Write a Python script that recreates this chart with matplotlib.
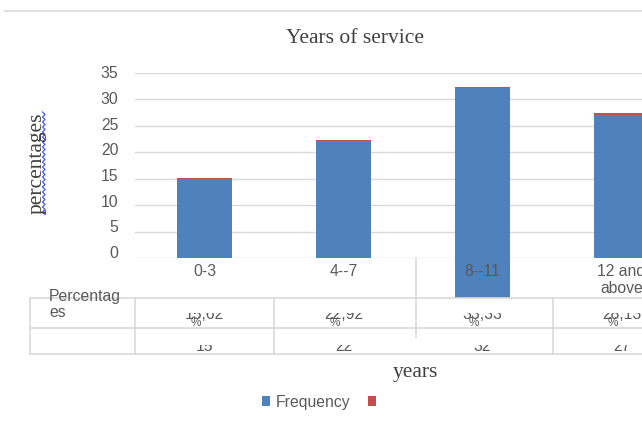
import numpy as np
import matplotlib
matplotlib.use('Agg')
import matplotlib.pyplot as plt
from matplotlib.transforms import Bbox, TransformedBbox, ScaledTranslation

# service groups and counts
categories = ['0-3', '4--7', '8--11', '12 and\nabove']
frequency = [15, 22, 32, 27]
percent = [15.62, 22.92, 33.33, 28.13]
percent_text = ['15,62', '22,92', '33,33', '28,13']
bar_base = [0, 0, -7.5, 0]   # the 8--11 bar runs down into the table

BLUE = '#4F81BD'
RED = '#C0504D'
GRID = '#D9D9D9'
TXT = '#595959'
SERIF = 'Liberation Serif'
SANS = 'Liberation Sans'
FS = 11.3      # sans text size
FS_SERIF = 15.5

W, H = 642, 425
fig = plt.figure(figsize=(W / 100, H / 100), dpi=100)

# plot area in pixels: left 135, value 0 at y=258, value 35 at y=72.5, 139 px per category
ax = fig.add_axes([135 / W, 1 - 258 / H, 556 / W, (258 - 72.5) / H])
x = np.arange(len(categories))
ax.bar(x, np.array(frequency) - np.array(bar_base), bottom=bar_base, width=0.4,
       color=BLUE, clip_on=False, zorder=2, label='Frequency')
ax.bar(x, np.array(percent) / 100, bottom=frequency, width=0.4,
       color=RED, clip_on=False, zorder=2, label=' ')
ax.set_xlim(-0.5, 3.5)
ax.set_ylim(0, 35)
yticks = list(range(0, 36, 5))
ax.set_yticks(yticks)
ax.set_xticks([])
ax.grid(axis='y', color=GRID, lw=1.0)
ax.set_axisbelow(True)
for s in ax.spines.values():
    s.set_visible(False)
ax.tick_params(axis='y', length=0, pad=12, labelsize=FS, labelcolor=TXT)
# labels creep upward towards the bottom of the scale
for v, lab in zip(yticks, ax.get_yticklabels()):
    lab.set_fontfamily(SANS)
    up = (35 - v) / 35 * 6 / 100
    lab.set_transform(lab.get_transform() + ScaledTranslation(0, up, fig.dpi_scale_trans))

# category labels sit on top of the bars
for i, c in enumerate(categories):
    ax.annotate(c, xy=(i, 0), xycoords=('data', 'axes fraction'),
                xytext=(0, -4), textcoords='offset points', ha='center', va='top',
                fontsize=FS, color=TXT, family=SANS, linespacing=1.2, zorder=5)

# overlay in pixel coordinates for the title, table and labels
ov = fig.add_axes([0, 0, 1, 1])
ov.set_xlim(0, W)
ov.set_ylim(H, 0)
ov.axis('off')
ov.patch.set_visible(False)

ov.plot([5, W], [11, 11], color=GRID, lw=1.2)
ov.text(355, 38, 'Years of service', ha='center', va='center', fontsize=FS_SERIF,
        family=SERIF, color='#404040')
ov.text(37, 163, 'percentages', ha='center', va='center', rotation=90, fontsize=FS_SERIF,
        family=SERIF, color='#404040')
yy = np.arange(112, 216, 2.5)
xx = np.where(np.arange(len(yy)) % 2 == 0, 42.5, 45)
ov.plot(xx, yy, color='#3344FF', lw=0.8)
ov.text(415, 373, 'years', ha='center', va='center', fontsize=FS_SERIF,
        family=SERIF, color='#404040')

# data table grid
for yl in [298, 328, 354]:
    ov.plot([30, W], [yl, yl], color=GRID, lw=1.2)
for xl in [30, 135, 274, 553]:
    ov.plot([xl, xl], [298, 354], color=GRID, lw=1.2)
ov.plot([416, 416], [258, 337], color=GRID, lw=1.2)

ov.text(49, 300.5, 'Percentag', ha='left', va='baseline', fontsize=FS, family=SANS, color=TXT)
ov.text(49, 317, 'es', ha='left', va='baseline', fontsize=FS, family=SANS, color=TXT)


def clip_rows(top, bottom):
    return TransformedBbox(Bbox([[0, 1 - bottom / H], [1, 1 - top / H]]), fig.transFigure)


pct_clip = clip_rows(313, 328)
frq_clip = clip_rows(345, 354)
for i in range(len(categories)):
    cx = 135 + (i + 0.5) * 139
    for t in [ov.text(cx, 319, percent_text[i], ha='center', va='baseline',
                      fontsize=FS, family=SANS, color=TXT),
              ov.text(cx - 9, 325.5, '%', ha='center', va='baseline',
                      fontsize=8.5, family=SANS, color=TXT)]:
        t.set_clip_box(pct_clip)
        t.set_clip_on(True)
    t = ov.text(cx, 351, str(frequency[i]), ha='center', va='baseline',
                fontsize=FS, family=SANS, color=TXT)
    t.set_clip_box(frq_clip)
    t.set_clip_on(True)

h, l = ax.get_legend_handles_labels()
leg = fig.legend(h, l, loc='center', bbox_to_anchor=(324 / W, 1 - 402 / H), ncol=2,
                 frameon=False, handlelength=0.55, handleheight=0.55, handletextpad=0.35,
                 columnspacing=1.1, prop={'family': SANS, 'size': FS})
for t in leg.get_texts():
    t.set_color(TXT)

fig.savefig('out.png', dpi=100)
